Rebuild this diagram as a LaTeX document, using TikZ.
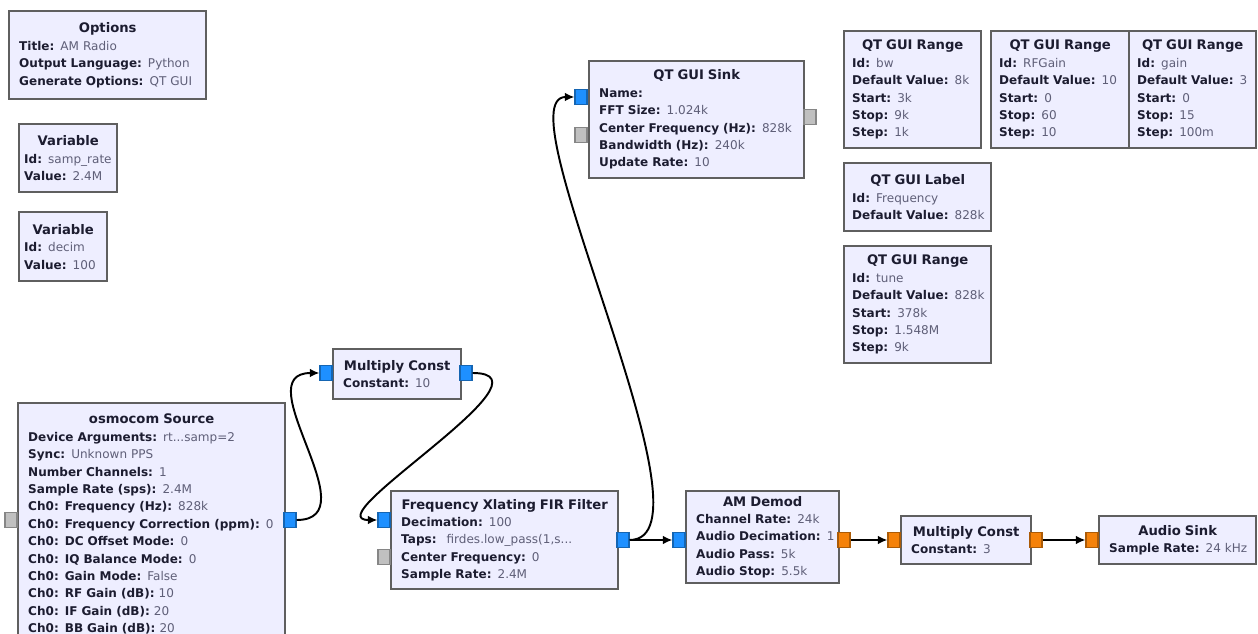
\documentclass[tikz,border=0pt]{standalone}
\usepackage{fontspec}
\setmainfont{DejaVu Sans}
\usetikzlibrary{arrows.meta,positioning}
\definecolor{blkfill}{RGB}{238,238,255}
\definecolor{blkline}{RGB}{95,95,95}
\definecolor{keycol}{RGB}{28,28,48}
\definecolor{valcol}{RGB}{95,95,120}
\definecolor{cplx}{RGB}{30,144,255}
\definecolor{flt}{RGB}{245,130,10}
\definecolor{msg}{RGB}{192,192,192}
\newcommand\ttl[1]{{\fontsize{7.5}{10.2}\selectfont\bfseries\noindent\makebox[\linewidth]{#1}\par}}
\newcommand\kv[2]{\mbox{\textbf{#1:} {\color{valcol}#2}}\par}
\tikzset{
  blk/.style={draw=blkline,fill=blkfill,line width=1.4pt,anchor=north west,
    inner xsep=0.2cm,inner ysep=0pt,text=keycol,
    font=\fontsize{6.85}{9.9}\selectfont},
  port/.style={draw=#1!70!black,fill=#1,minimum width=0.24cm,
    minimum height=0.3cm,inner sep=0pt,line width=0.6pt},
  wire/.style={-{Latex[length=5.5pt,width=5pt]},line width=1.1pt}
}

\begin{document}
\begin{tikzpicture}[x=0.02cm,y=-0.02cm]
  \useasboundingbox (0,0) rectangle (1258,634);
  % options and variables
  \node[blk,text width=3.54cm,minimum height=1.76cm] (opts) at (8,10)
    {\ttl{Options}\kv{Title}{AM Radio}\kv{Output Language}{Python}\kv{Generate Options}{QT GUI}};
  \node[blk,inner xsep=0.1cm,text width=1.76cm,minimum height=1.36cm] (vrate) at (18,123)
    {\ttl{Variable}\kv{Id}{samp\_rate}\kv{Value}{2.4M}};
  \node[blk,inner xsep=0.1cm,text width=1.56cm,minimum height=1.38cm] (vdecim) at (18,211)
    {\ttl{Variable}\kv{Id}{decim}\kv{Value}{100}};
  % gui widgets
  \node[blk,text width=3.9cm,minimum height=2.34cm] (sink) at (588,60)
    {\ttl{QT GUI Sink}\kv{Name}{}\kv{FFT Size}{1.024k}\kv{Center Frequency (Hz)}{828k}\kv{Bandwidth (Hz)}{240k}\kv{Update Rate}{10}};
  \node[blk,inner xsep=0.16cm,text width=2.42cm,minimum height=2.34cm] (rbw) at (843,30)
    {\ttl{QT GUI Range}\kv{Id}{bw}\kv{Default Value}{8k}\kv{Start}{3k}\kv{Stop}{9k}\kv{Step}{1k}};
  \node[blk,inner xsep=0.16cm,text width=2.44cm,minimum height=2.34cm] (rrf) at (990,30)
    {\ttl{QT GUI Range}\kv{Id}{RFGain}\kv{Default Value}{10}\kv{Start}{0}\kv{Stop}{60}\kv{Step}{10}};
  \node[blk,inner xsep=0.16cm,text width=2.22cm,minimum height=2.34cm] (rgain) at (1128,30)
    {\ttl{QT GUI Range}\kv{Id}{gain}\kv{Default Value}{3}\kv{Start}{0}\kv{Stop}{15}\kv{Step}{100m}};
  \node[blk,inner xsep=0.16cm,text width=2.62cm,minimum height=1.36cm] (lfreq) at (843,162)
    {\ttl{QT GUI Label}\kv{Id}{Frequency}\kv{Default Value}{828k}};
  \node[blk,inner xsep=0.16cm,text width=2.62cm,minimum height=2.34cm] (rtune) at (843,245)
    {\ttl{QT GUI Range}\kv{Id}{tune}\kv{Default Value}{828k}\kv{Start}{378k}\kv{Stop}{1.548M}\kv{Step}{9k}};
  % signal chain
  \node[blk,text width=2.16cm,minimum height=1.0cm] (mc1) at (332,348)
    {\ttl{Multiply Const}\kv{Constant}{10}};
  \node[blk,text width=4.94cm,minimum height=4.84cm] (src) at (17,402)
    {\ttl{osmocom Source}\kv{Device Arguments}{rt...samp=2}\kv{Sync}{Unknown PPS}\kv{Number Channels}{1}%
     \kv{Sample Rate (sps)}{2.4M}\kv{Ch0: Frequency (Hz)}{828k}\kv{Ch0: Frequency Correction (ppm)}{0}%
     \kv{Ch0: DC Offset Mode}{0}\kv{Ch0: IQ Balance Mode}{0}\kv{Ch0: Gain Mode}{False}%
     \kv{Ch0: RF Gain (dB)}{10}\kv{Ch0: IF Gain (dB)}{20}\kv{Ch0: BB Gain (dB)}{20}};
  \node[blk,text width=4.14cm,minimum height=1.96cm] (xlt) at (390,490)
    {\ttl{Frequency Xlating FIR Filter}\kv{Decimation}{100}\kv{Taps}{\ firdes.low\_pass(1,s...}\kv{Center Frequency}{0}\kv{Sample Rate}{2.4M}};
  \node[blk,text width=2.66cm,minimum height=1.84cm] (demod) at (685,490)
    {\ttl{AM Demod}\kv{Channel Rate}{24k}\kv{Audio Decimation}{1}\kv{Audio Pass}{5k}\kv{Audio Stop}{5.5k}};
  \node[blk,text width=2.2cm,minimum height=0.96cm] (mc2) at (900,515)
    {\ttl{Multiply Const}\kv{Constant}{3}};
  \node[blk,text width=2.74cm,minimum height=0.96cm] (asink) at (1098,515)
    {\ttl{Audio Sink}\kv{Sample Rate}{24 kHz}};
  % ports
  \node[port=msg] (srcin) at (11,520) {};
  \node[port=cplx] (srcout) at (290,520) {};
  \node[port=cplx] (mc1in) at (326,373) {};
  \node[port=cplx] (mc1out) at (466,373) {};
  \node[port=cplx] (xltin) at (384,520) {};
  \node[port=msg] (xltmsg) at (384,557) {};
  \node[port=cplx] (xltout) at (623,540) {};
  \node[port=cplx] (sinkin) at (581,97) {};
  \node[port=msg] (sinkmsg) at (581,135) {};
  \node[port=msg] (sinkout) at (810,117) {};
  \node[port=cplx] (demin) at (679,540) {};
  \node[port=flt] (demout) at (844,540) {};
  \node[port=flt] (mc2in) at (894,540) {};
  \node[port=flt] (mc2out) at (1036,540) {};
  \node[port=flt] (asin) at (1092,540) {};
  % connections
  \draw[wire] (srcout.east) .. controls +(75,0) and +(-75,0) .. (mc1in.west);
  \draw[wire] (mc1out.east) .. controls +(90,0) and +(-65,0) .. (xltin.west);
  \draw[wire] (xltout.east) -- (demin.west);
  \draw[wire] (xltout.east) .. controls +(95,0) and +(-75,0) .. (sinkin.west);
  \draw[wire] (demout.east) -- (mc2in.west);
  \draw[wire] (mc2out.east) -- (asin.west);
\end{tikzpicture}
\end{document}
